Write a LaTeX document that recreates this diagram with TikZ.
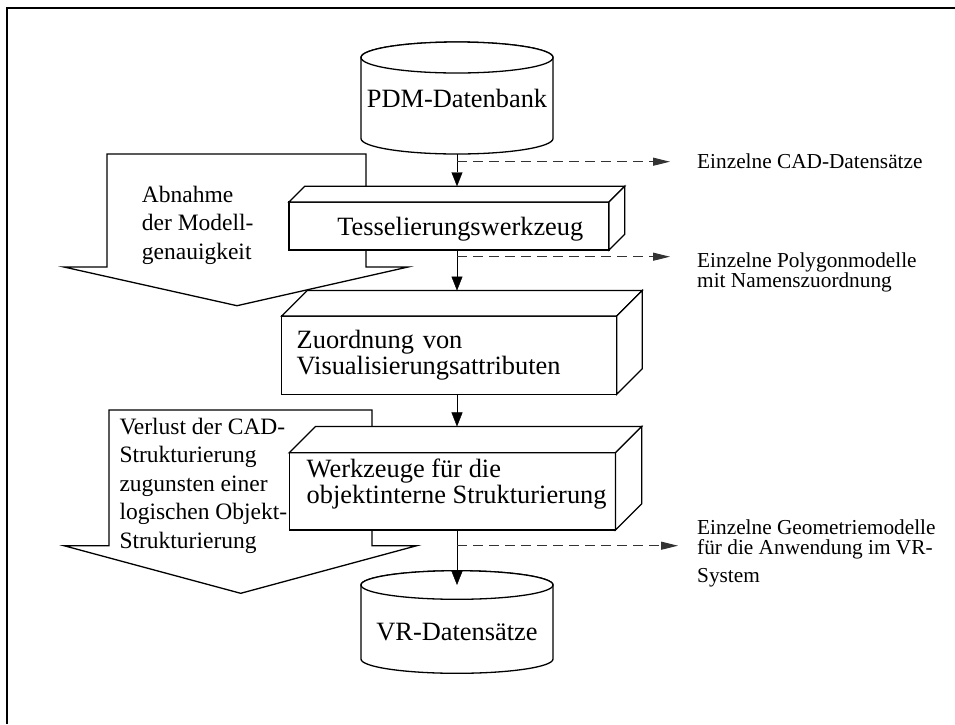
\documentclass[tikz,border=0pt]{standalone}
\usepackage{fontspec}
\setmainfont{Liberation Serif}
\usetikzlibrary{arrows.meta,calc}
\pgfdeclarelayer{back}
\pgfsetlayers{back,main}

\newcommand\boxfont{\fontsize{26.4}{26}\selectfont}
\newcommand\notefont{\fontsize{23.5}{28.5}\selectfont}
\newcommand\outfont{\fontsize{21.3}{20}\selectfont}

% top and right faces of a process block (front face = node #1, depth #2)
\newcommand\extrude[2]{%
  \draw[shell] (#1.north west) -- ++(#2,-#2) -- ([shift={(#2,-#2)}]#1.north east)
    -- (#1.north east) -- cycle;
  \draw[shell] (#1.north east) -- ++(#2,-#2) -- ([shift={(#2,-#2)}]#1.south east)
    -- (#1.south east) -- cycle;
}
% database drum around node #1, cap half-height #2
\newcommand\drum[2]{%
  \path[shell] ([yshift=-#2pt]#1.north west) -- ([yshift=#2pt]#1.south west)
    arc[start angle=180, end angle=360, x radius=96pt, y radius=#2pt]
    -- ([yshift=-#2pt]#1.north east)
    arc[start angle=0, end angle=180, x radius=96pt, y radius=#2pt] -- cycle;
  \draw[shell] ([yshift=-#2pt]#1.north) ellipse[x radius=96pt, y radius=#2pt];
}

\begin{document}
\begin{tikzpicture}[x=1pt, y=-1pt, line width=1.3pt,
  shell/.style={draw=black, fill=white, line width=1.3pt},
  stage/.style={draw, fill=white, inner sep=0pt, outer sep=0pt, font=\boxfont},
  store/.style={inner sep=0pt, outer sep=0pt, minimum width=192pt, font=\boxfont},
  flow/.style={-{Triangle[length=14pt, width=11pt]}},
  side/.style={dash pattern=on 10pt off 6pt, line width=1pt, draw=black!80,
    -{Triangle[length=17pt, width=8pt, fill=black!80]}},
  note/.style={font=\notefont, align=left, inner sep=0pt, anchor=base west},
  outlabel/.style={font=\outfont, align=left, inner sep=0pt, anchor=base west}]

\useasboundingbox (0,0) rectangle (955,724);

% frame
\draw[line width=1.8pt] (7.3,724) -- (7.3,8.3) -- (955,8.3);

% data stores
\node[store, minimum height=112pt] (pdm) at (457,98) {PDM-Datenbank};
\node[store, minimum height=102.6pt, text height=37.4pt] (vr) at (457,622) {VR-Datensätze};

% processing stages
\node[stage, minimum width=320pt, minimum height=48pt, text width=268.6pt,
  align=right, text depth=0pt] (tess) at (449,226) {Tesselierungswerkzeug};
\node[stage, minimum width=335pt, minimum height=78.3pt, text width=305pt,
  align=left] (zuo) at (449.2,355.2) {Zuordnung von\\Visualisierungsattributen};
\node[stage, minimum width=326.2pt, minimum height=77.3pt, align=left,
  text depth=20pt] (wz) at (452.4,491.4)
  {\hspace*{8.5pt}Werkzeuge für die\\\hspace*{8.5pt}objektinterne Strukturierung};

\extrude{tess}{15.7}
\extrude{zuo}{25.5}
\extrude{wz}{26.3}

\begin{pgfonlayer}{back}
  \drum{pdm}{15.5}
  \drum{vr}{14.3}
  % broad trend arrows
  \path[shell] (107,154) -- (366,154) -- (366,267) -- (408,267) -- (237,305.7)
    -- (64,267) -- (107,267) -- cycle;
  \path[shell] (109,410) -- (372,410) -- (372,545.7) -- (416.7,545.7)
    -- (240.7,593.3) -- (64,545.7) -- (109,545.7) -- cycle;
  \node[note] (n1) at (141.7,259) {Abnahme\\der Modell-\\genauigkeit};
  \node[note] (n2) at (119.3,548)
    {Verlust der CAD-\\Strukturierung\\zugunsten einer\\logischen Objekt-\\Strukturierung};
\end{pgfonlayer}

% entry points of the stages
\coordinate (tessTop) at ([shift={(15.7,-15.7)}]tess.north);
\coordinate (zuoTop) at ([shift={(25.5,-25.5)}]zuo.north);
\coordinate (wzTop) at ([shift={(26.3,-26.3)}]wz.north);
\coordinate (vrCap) at ([yshift=-14.3pt]vr.north);

% main flow
\draw[flow] (pdm.south) -- (pdm.south |- tessTop);
\draw[flow] (tess.south -| pdm.south) -- (pdm.south |- zuoTop);
\draw[flow] (zuo.south -| pdm.south) -- (pdm.south |- wzTop);
\draw[flow] (wz.south -| pdm.south) -- (vrCap);

% intermediate results
\node[outlabel] (o1) at (697,168) {Einzelne CAD-Datensätze};
\node[outlabel] (o2) at (697,287) {Einzelne Polygonmodelle\\mit Namenszuordnung};
\node[outlabel] (o3) at (697,582)
  {Einzelne Geometriemodelle\\für die Anwendung im VR-\\[8pt]System};

\coordinate (t1) at (670,161.7);
\coordinate (t2) at (670,256.7);
\coordinate (t3) at (678,545.7);
\draw[side] (pdm.south |- t1) -- (t1);
\draw[side] (pdm.south |- t2) -- (t2);
\draw[side] (pdm.south |- t3) -- (t3);
\end{tikzpicture}
\end{document}
